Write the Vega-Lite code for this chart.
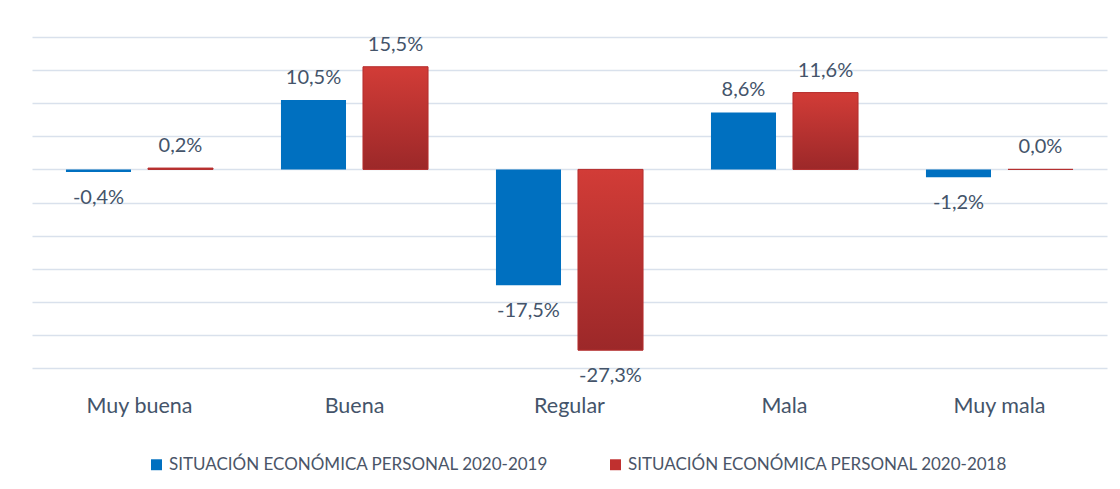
{
  "$schema": "https://vega.github.io/schema/vega-lite/v6.json",
  "autosize": {"type": "none"},
  "width": 1075,
  "height": 331,
  "padding": {"left": 32, "top": 37, "right": 13, "bottom": 121},
  "background": "white",
  "config": {
    "view": {"stroke": null},
    "font": "Lato",
    "locale": {"number": {"decimal": ",", "thousands": ".", "grouping": [3], "currency": ["", ""], "minus": "-"}}
  },
  "data": {
    "values": [
      {"categoria": "Muy buena", "serie": "SITUACIÓN ECONÓMICA PERSONAL 2020-2019", "valor": -0.004},
      {"categoria": "Muy buena", "serie": "SITUACIÓN ECONÓMICA PERSONAL 2020-2018", "valor": 0.002},
      {"categoria": "Buena", "serie": "SITUACIÓN ECONÓMICA PERSONAL 2020-2019", "valor": 0.105},
      {"categoria": "Buena", "serie": "SITUACIÓN ECONÓMICA PERSONAL 2020-2018", "valor": 0.155},
      {"categoria": "Regular", "serie": "SITUACIÓN ECONÓMICA PERSONAL 2020-2019", "valor": -0.175},
      {"categoria": "Regular", "serie": "SITUACIÓN ECONÓMICA PERSONAL 2020-2018", "valor": -0.273},
      {"categoria": "Mala", "serie": "SITUACIÓN ECONÓMICA PERSONAL 2020-2019", "valor": 0.086},
      {"categoria": "Mala", "serie": "SITUACIÓN ECONÓMICA PERSONAL 2020-2018", "valor": 0.116},
      {"categoria": "Muy mala", "serie": "SITUACIÓN ECONÓMICA PERSONAL 2020-2019", "valor": -0.012},
      {"categoria": "Muy mala", "serie": "SITUACIÓN ECONÓMICA PERSONAL 2020-2018", "valor": 0.0}
    ]
  },
  "encoding": {
    "x": {
      "field": "categoria", "type": "nominal", "sort": null,
      "scale": {"paddingInner": 0.316, "paddingOuter": 0.158},
      "axis": {"title": null, "labelAngle": 0, "ticks": false, "domain": false, "labelPadding": 27, "labelFontSize": 21.5, "labelColor": "#44546A", "labelFont": "Lato"}
    },
    "xOffset": {
      "field": "serie", "type": "nominal", "sort": null,
      "scale": {"domain": ["SITUACIÓN ECONÓMICA PERSONAL 2020-2019", "SITUACIÓN ECONÓMICA PERSONAL 2020-2018"], "paddingInner": 0.207, "paddingOuter": 0}
    },
    "y": {
      "field": "valor", "type": "quantitative",
      "scale": {"domain": [-0.3, 0.2], "nice": false, "zero": false},
      "axis": {"title": null, "labels": false, "ticks": false, "domain": false, "values": [-0.3, -0.25, -0.2, -0.15, -0.1, -0.05, 0, 0.05, 0.1, 0.15, 0.2], "gridColor": "#D9E1EC", "gridWidth": 1.3}
    }
  },
  "layer": [
    {
      "mark": {"type": "bar"},
      "encoding": {
        "fill": {
          "field": "serie", "type": "nominal", "sort": null,
          "scale": {"domain": ["SITUACIÓN ECONÓMICA PERSONAL 2020-2019", "SITUACIÓN ECONÓMICA PERSONAL 2020-2018"], "range": ["#0070C0", "#C0302F"]},
          "legend": {
            "title": null, "orient": "none", "direction": "horizontal", "legendX": 116, "legendY": 419,
            "symbolType": "square", "symbolSize": 120, "symbolStrokeWidth": 0,
            "labelFontSize": 17, "labelColor": "#4A5568", "labelFont": "Lato", "labelLimit": 600,
            "columnPadding": 58
          }
        }
      }
    },
    {
      "transform": [{"filter": "datum.serie == 'SITUACIÓN ECONÓMICA PERSONAL 2020-2018'"}],
      "mark": {
        "type": "bar",
        "stroke": "#B52E2E", "strokeWidth": 1,
        "color": {"gradient": "linear", "x1": 0, "y1": 0, "x2": 0, "y2": 1, "stops": [{"offset": 0, "color": "#D23C37"}, {"offset": 1, "color": "#9C2829"}]}
      },
      "encoding": {}
    },
    {
      "transform": [{"filter": "datum.valor >= 0"}],
      "mark": {"type": "text", "baseline": "alphabetic", "dy": -16, "fontSize": 20, "color": "#44546A", "font": "Lato"},
      "encoding": {"text": {"field": "valor", "type": "quantitative", "format": ".1%"}}
    },
    {
      "transform": [{"filter": "datum.valor < 0"}],
      "mark": {"type": "text", "baseline": "top", "dy": 16, "fontSize": 20, "color": "#44546A", "font": "Lato"},
      "encoding": {"text": {"field": "valor", "type": "quantitative", "format": ".1%"}}
    }
  ]
}
